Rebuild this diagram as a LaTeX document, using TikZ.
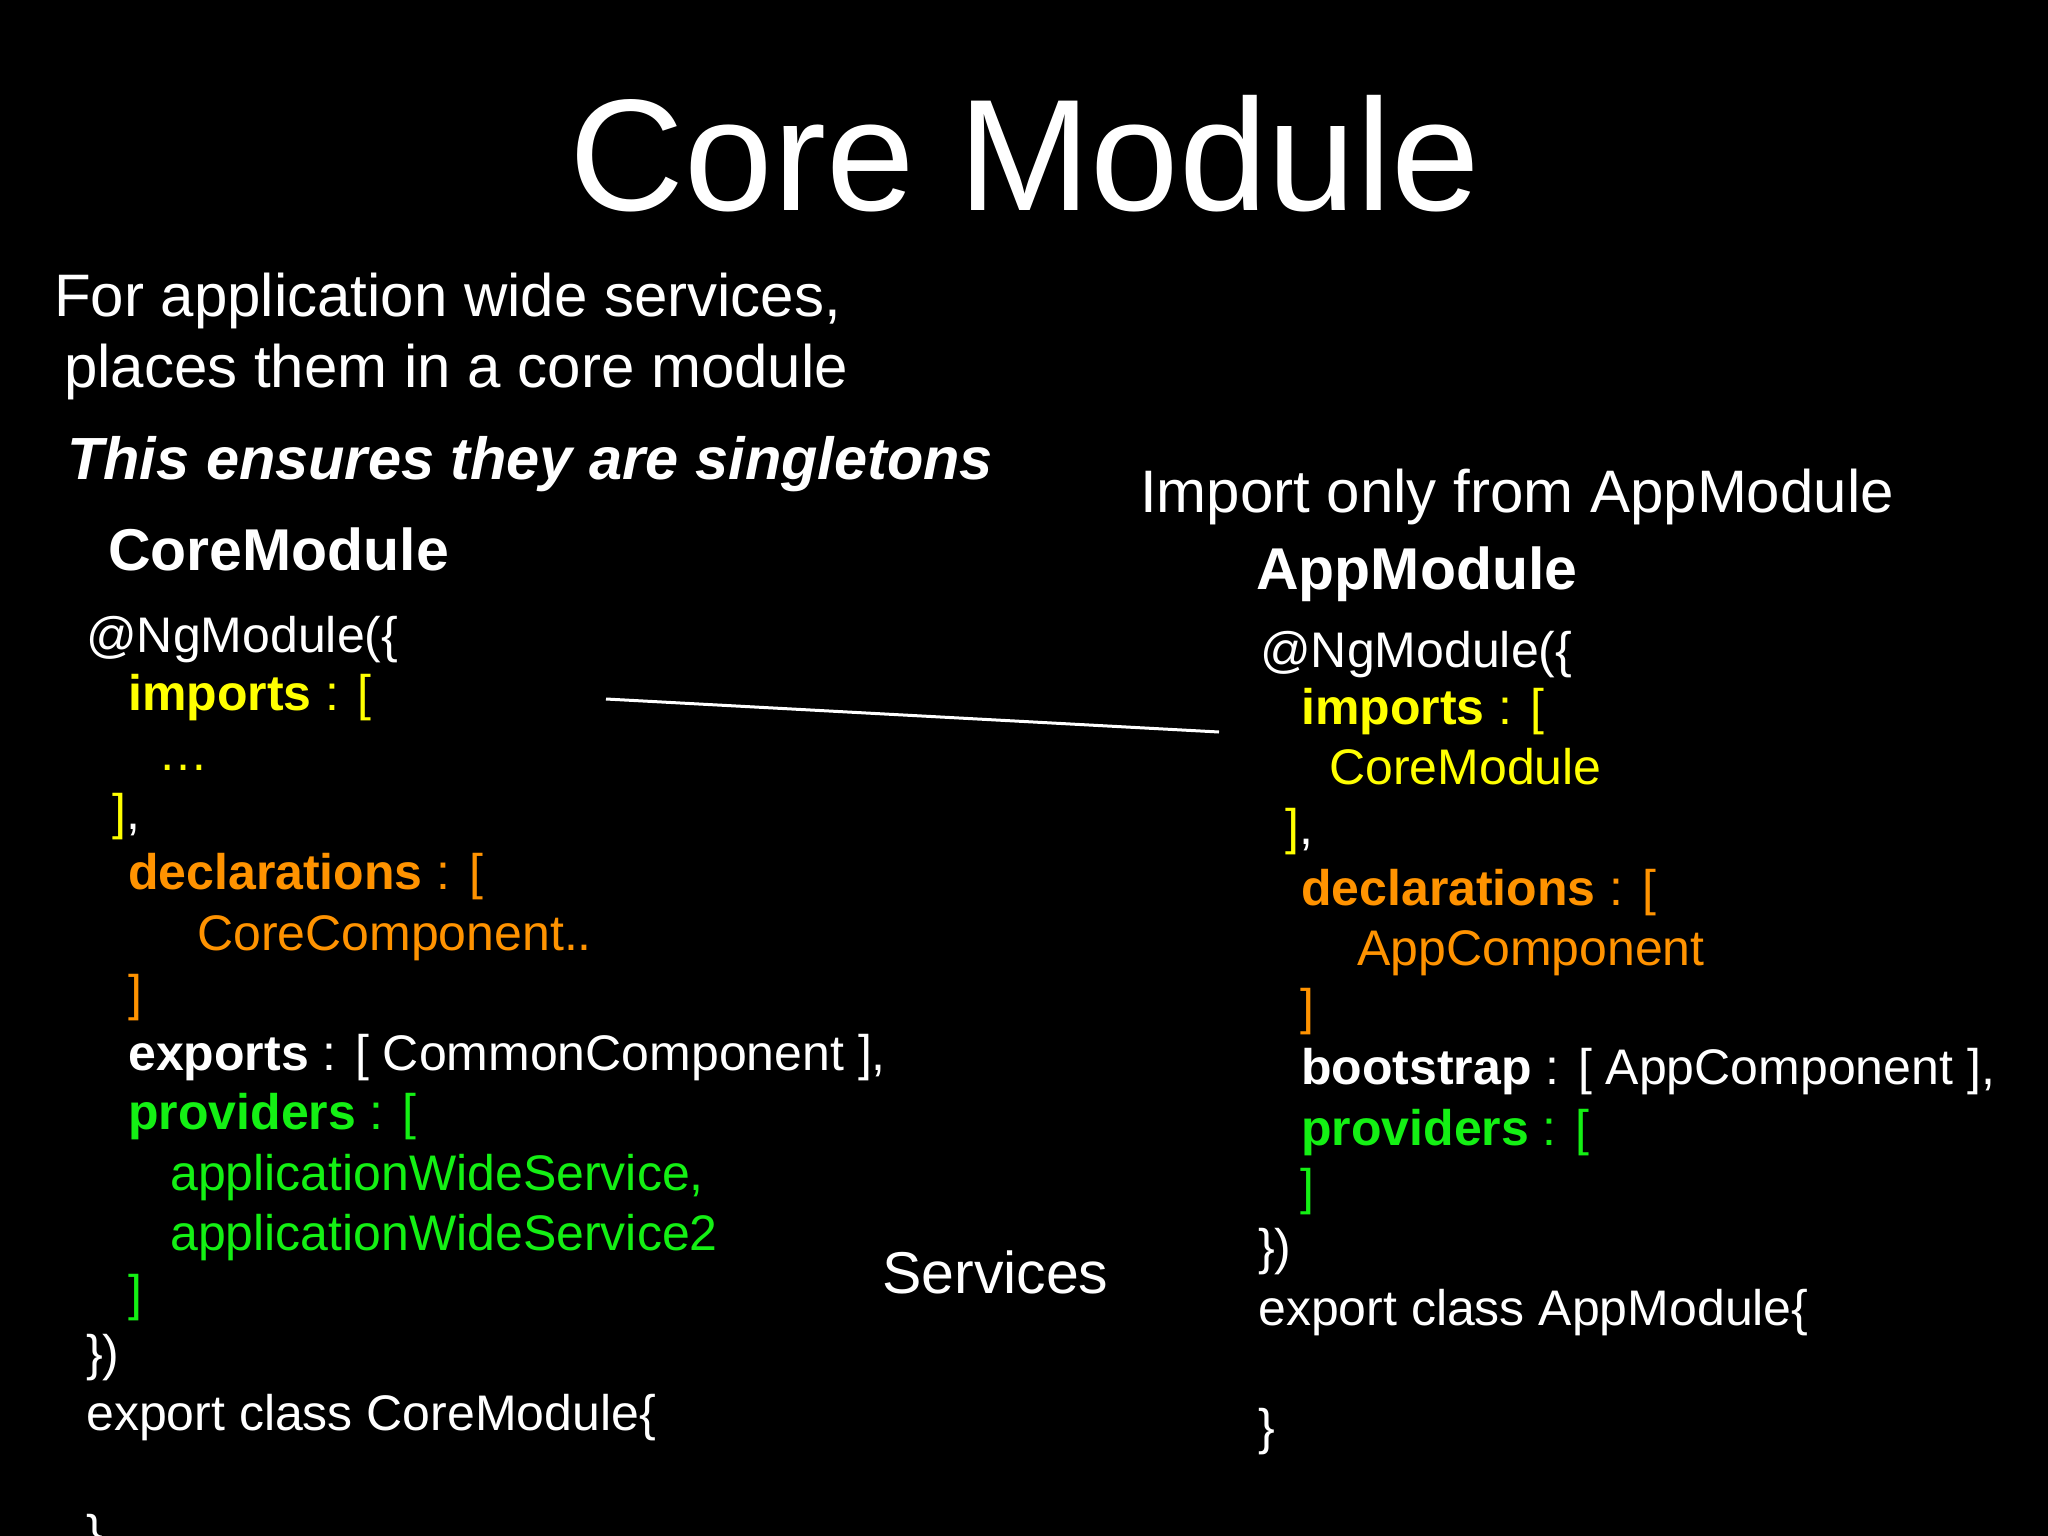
\documentclass[tikz,border=0pt]{standalone}
\usepackage{fontspec}
\setmainfont{Liberation Sans}
\definecolor{kwyellow}{RGB}{255,255,0}
\definecolor{kworange}{RGB}{255,147,0}
\definecolor{kwgreen}{RGB}{20,240,20}

\begin{document}
\begin{tikzpicture}
  [x=1pt, y=-1pt,
   every node/.style={anchor=base west, inner sep=0pt, text=white},
   code/.style={font=\fontsize{50}{60}\selectfont},
   head/.style={font=\fontsize{60}{72}\selectfont},
   link/.style={draw=white, line width=3pt}]
  \useasboundingbox (0,0) rectangle (2048,1536);
  \fill[black] (0,0) rectangle (2048,1536);

  \node (title) [anchor=base, font=\fontsize{159}{190}\selectfont] at (1025,210) {Core Module};
  \node (note1) [head] at (54,316) {For application wide services,};
  \node (note2) [head] at (64,387) {places them in a core module};
  \node (note3) [head, font=\fontsize{59.5}{70}\selectfont\bfseries\itshape] at (67,479) {This ensures they are singletons};
  \node (note4) [head] at (1140,512) {Import only from AppModule};
  \node (services) [font=\fontsize{59}{70}\selectfont] at (882,1293) {Services};

  % CoreModule code
  \node (coreName) [head, font=\fontsize{59}{72}\selectfont\bfseries] at (108,570) {CoreModule};
  \node (coreDeco) [code] at (86,652) {@NgModule(\{};
  \node (coreImp) [code, text=kwyellow] at (128,710) {\bfseries imports \mdseries: [};
  \node (coreDots) [code, text=kwyellow] at (158,770) {…};
  \node (coreImpEnd) [code] at (112,829) {{\color{kwyellow}]},};
  \node (coreDecl) [code, text=kworange] at (128,889) {\bfseries declarations \mdseries: [};
  \node (coreComp) [code, text=kworange] at (197,950) {CoreComponent..};
  \node (coreDeclEnd) [code, text=kworange] at (128,1010) {]};
  \node (coreExp) [code] at (128,1070) {\bfseries exports \mdseries: [ CommonComponent ],};
  \node (coreProv) [code, text=kwgreen] at (128,1129) {\bfseries providers \mdseries: [};
  \node (coreSvc1) [code, text=kwgreen] at (170,1190) {applicationWideService,};
  \node (coreSvc2) [code, text=kwgreen] at (170,1250) {applicationWideService2};
  \node (coreProvEnd) [code, text=kwgreen] at (128,1310) {]};
  \node (coreClose) [code] at (86,1370) {\})};
  \node (coreClass) [code] at (86,1430) {export class CoreModule\{};
  \node (coreClassEnd) [code] at (86,1550) {\}};

  % AppModule code
  \node (appName) [head, font=\fontsize{59}{72}\selectfont\bfseries] at (1256,589) {AppModule};
  \node (appDeco) [code] at (1260,667) {@NgModule(\{};
  \node (appImp) [code, text=kwyellow] at (1301,724) {\bfseries imports \mdseries: [};
  \node (appCore) [code, text=kwyellow] at (1329,784) {CoreModule};
  \node (appImpEnd) [code] at (1285,844) {{\color{kwyellow}]},};
  \node (appDecl) [code, text=kworange] at (1301,905) {\bfseries declarations \mdseries: [};
  \node (appComp) [code, text=kworange] at (1357,965) {AppComponent};
  \node (appDeclEnd) [code, text=kworange] at (1300,1024) {]};
  \node (appBoot) [code] at (1301,1084) {\bfseries bootstrap \mdseries: [ AppComponent ],};
  \node (appProv) [code, text=kwgreen] at (1301,1145) {\bfseries providers \mdseries: [};
  \node (appProvEnd) [code, text=kwgreen] at (1300,1204) {]};
  \node (appClose) [code] at (1258,1264) {\})};
  \node (appClass) [code] at (1258,1325) {export class AppModule\{};
  \node (appClassEnd) [code] at (1258,1444) {\}};

  \coordinate (linkFrom) at (606,699);
  \coordinate (linkTo) at (1219,732);
  \draw [link] (linkFrom) -- (linkTo);
\end{tikzpicture}
\end{document}
